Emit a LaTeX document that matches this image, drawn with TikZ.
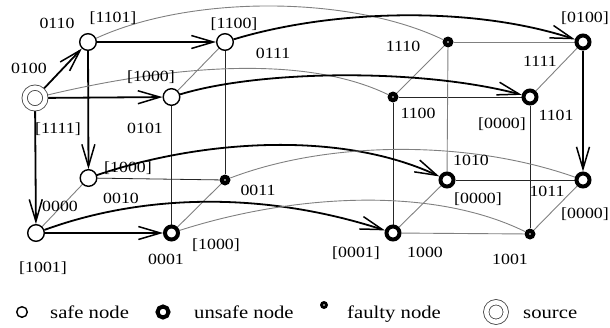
\documentclass[tikz,border=0pt]{standalone}
\usepackage{fontspec}
\setmainfont{Liberation Serif}[FakeStretch=1.15]
\usetikzlibrary{arrows.meta}
\pgfdeclarelayer{edges}
\pgfsetlayers{edges,main}

\tikzset{
  % node kinds
  safe/.style={circle, draw, line width=1.4pt, fill=white, minimum size=16.6pt, inner sep=0pt},
  unsafe/.style={circle, draw, line width=4pt, fill=white, minimum size=13pt, inner sep=0pt},
  faulty/.style={circle, fill=black, minimum size=11pt, inner sep=0pt,
    path picture={\fill[white] (path picture bounding box.center) circle (0.9pt);}},
  source/.style={circle, draw=black!75, line width=0.8pt, double=white, double distance=4.5pt,
    fill=white, minimum size=20.7pt, inner sep=0pt},
  % connectors
  bold/.style={line width=1.8pt, -{Straight Barb[length=22pt,width=13pt,line width=1.5pt]}},
  fine/.style={line width=0.8pt, draw=black!85},
  faint/.style={line width=0.9pt, draw=black!50},
  % texts
  lbl/.style={inner sep=0pt, font=\fontsize{15.5}{16}\selectfont},
  leg/.style={inner sep=0pt, anchor=base west, font=\fontsize{18}{20}\selectfont},
}

\begin{document}
\begin{tikzpicture}[x=1pt, y=-1pt]
\useasboundingbox (0,0) rectangle (610,327);

% ---- left 3-cube (first bit 0)
\node[source] (n0100) at (35,98) {};
\node[safe]   (n0110) at (88,42) {};
\node[safe]   (n0101) at (171.5,97) {};
\node[safe]   (n0111) at (225,42) {};
\node[safe]   (n0010) at (88.5,178) {};
\node[safe]   (n0000) at (36,233) {};
\node[faulty] (n0011) at (225,180) {};
\node[unsafe] (n0001) at (171.5,233) {};

% ---- right 3-cube (first bit 1)
\node[faulty] (n1100) at (393,97) {};
\node[faulty] (n1110) at (448,42) {};
\node[unsafe] (n1101) at (530,97) {};
\node[unsafe] (n1111) at (583,42) {};
\node[unsafe] (n1000) at (393,233) {};
\node[unsafe] (n1010) at (447,180) {};
\node[faulty] (n1001) at (530,234) {};
\node[unsafe] (n1011) at (583,180) {};

% ---- labels: address and [safety vector]
\node[lbl] (t0110) at (57,23) {0110};
\node[lbl] (s0110) at (113,18) {[1101]};
\node[lbl] (t0100) at (29,68) {0100};
\node[lbl] (s0100) at (58,129) {[1111]};
\node[lbl] (s0101) at (151,77) {[1000]};
\node[lbl] (t0101) at (145,128) {0101};
\node[lbl] (s0111) at (234,24) {[1100]};
\node[lbl] (t0111) at (273,53) {0111};
\node[lbl] (t1110) at (403,46) {1110};
\node[lbl] (t1100) at (418,113) {1100};
\node[lbl] (s1111) at (585,18) {[0100]};
\node[lbl] (t1111) at (540,61) {1111};
\node[lbl] (s1101) at (502,124) {[0000]};
\node[lbl] (t1101) at (556,115) {1101};
\node[lbl] (s0010) at (128,168) {[1000]};
\node[lbl] (t0010) at (121,198) {0010};
\node[lbl] (t0000) at (60,206) {0000};
\node[lbl] (s0000) at (43,268) {[1001]};
\node[lbl] (t0001) at (166,259) {0001};
\node[lbl] (s0001) at (216,245) {[1000]};
\node[lbl] (t0011) at (258,190) {0011};
\node[lbl] (s1000) at (356,253) {[0001]};
\node[lbl] (t1000) at (425,252) {1000};
\node[lbl] (t1010) at (471,160) {1010};
\node[lbl] (s1010) at (478,199) {[0000]};
\node[lbl] (t1011) at (547,191) {1011};
\node[lbl] (s1011) at (585,214) {[0000]};
\node[lbl] (t1001) at (510,259) {1001};

% ---- legend
\node[safe, minimum size=10.6pt] (k1) at (22,312) {};
\node[leg] (k1t) at (50,318) {safe node};
\node[unsafe, minimum size=11pt] (k2) at (163,312) {};
\node[leg] (k2t) at (194,318) {unsafe node};
\node[faulty, minimum size=8pt] (k3) at (324,305) {};
\node[leg] (k3t) at (347,318) {faulty node};
\node[source, minimum size=19.5pt] (k4) at (496,312) {};
\node[leg] (k4t) at (523,318) {source};

\begin{pgfonlayer}{edges}
% left cube
\draw[bold]  (n0100) -- (n0110);
\draw[bold]  (n0100) -- (n0101);
\draw[bold]  (n0100) -- (n0000);
\draw[bold]  (n0110) -- (n0111);
\draw[bold]  (n0110) -- (n0010);
\draw[bold]  (n0000) -- (n0001);
\draw[faint] (n0101) -- (n0111);
\draw[fine]  (n0101) -- (n0001);
\draw[fine]  (n0111) -- (n0011);
\draw[fine]  (n0010) -- (n0011);
\draw[faint] (n0010) -- (n0000);
\draw[faint] (n0001) -- (n0011);
% right cube
\draw[faint] (n1100) -- (n1110);
\draw[fine]  (n1100) -- (n1101);
\draw[fine]  (n1100) -- (n1000);
\draw[faint] (n1110) -- (n1111);
\draw[faint] (n1110) -- (n1010);
\draw[faint] (n1111) -- (n1101);
\draw[bold]  (n1111) -- (n1011);
\draw[fine]  (n1101) -- (n1001);
\draw[fine]  (n1010) -- (n1011);
\draw[faint] (n1010) -- (n1000);
\draw[faint] (n1000) -- (n1001);
\draw[faint] (n1011) -- (n1001);
% links between the two cubes
\draw[faint] (n0110) .. controls (190,-5) and (350,-5) .. (n1110);
\draw[bold]  (n0111) .. controls (330,10) and (470,5) .. (n1111);
\draw[faint] (n0100) .. controls (160,68) and (300,52) .. (n1100);
\draw[bold]  (n0101) .. controls (260,70) and (420,68) .. (n1101);
\draw[bold]  (n0010) .. controls (200,140) and (340,130) .. (n1010);
\draw[faint] (n0011) .. controls (330,140) and (470,140) .. (n1011);
\draw[bold]  (n0000) .. controls (140,195) and (260,190) .. (n1000);
\draw[faint] (n0001) .. controls (290,195) and (430,185) .. (n1001);
\end{pgfonlayer}
\end{tikzpicture}
\end{document}
